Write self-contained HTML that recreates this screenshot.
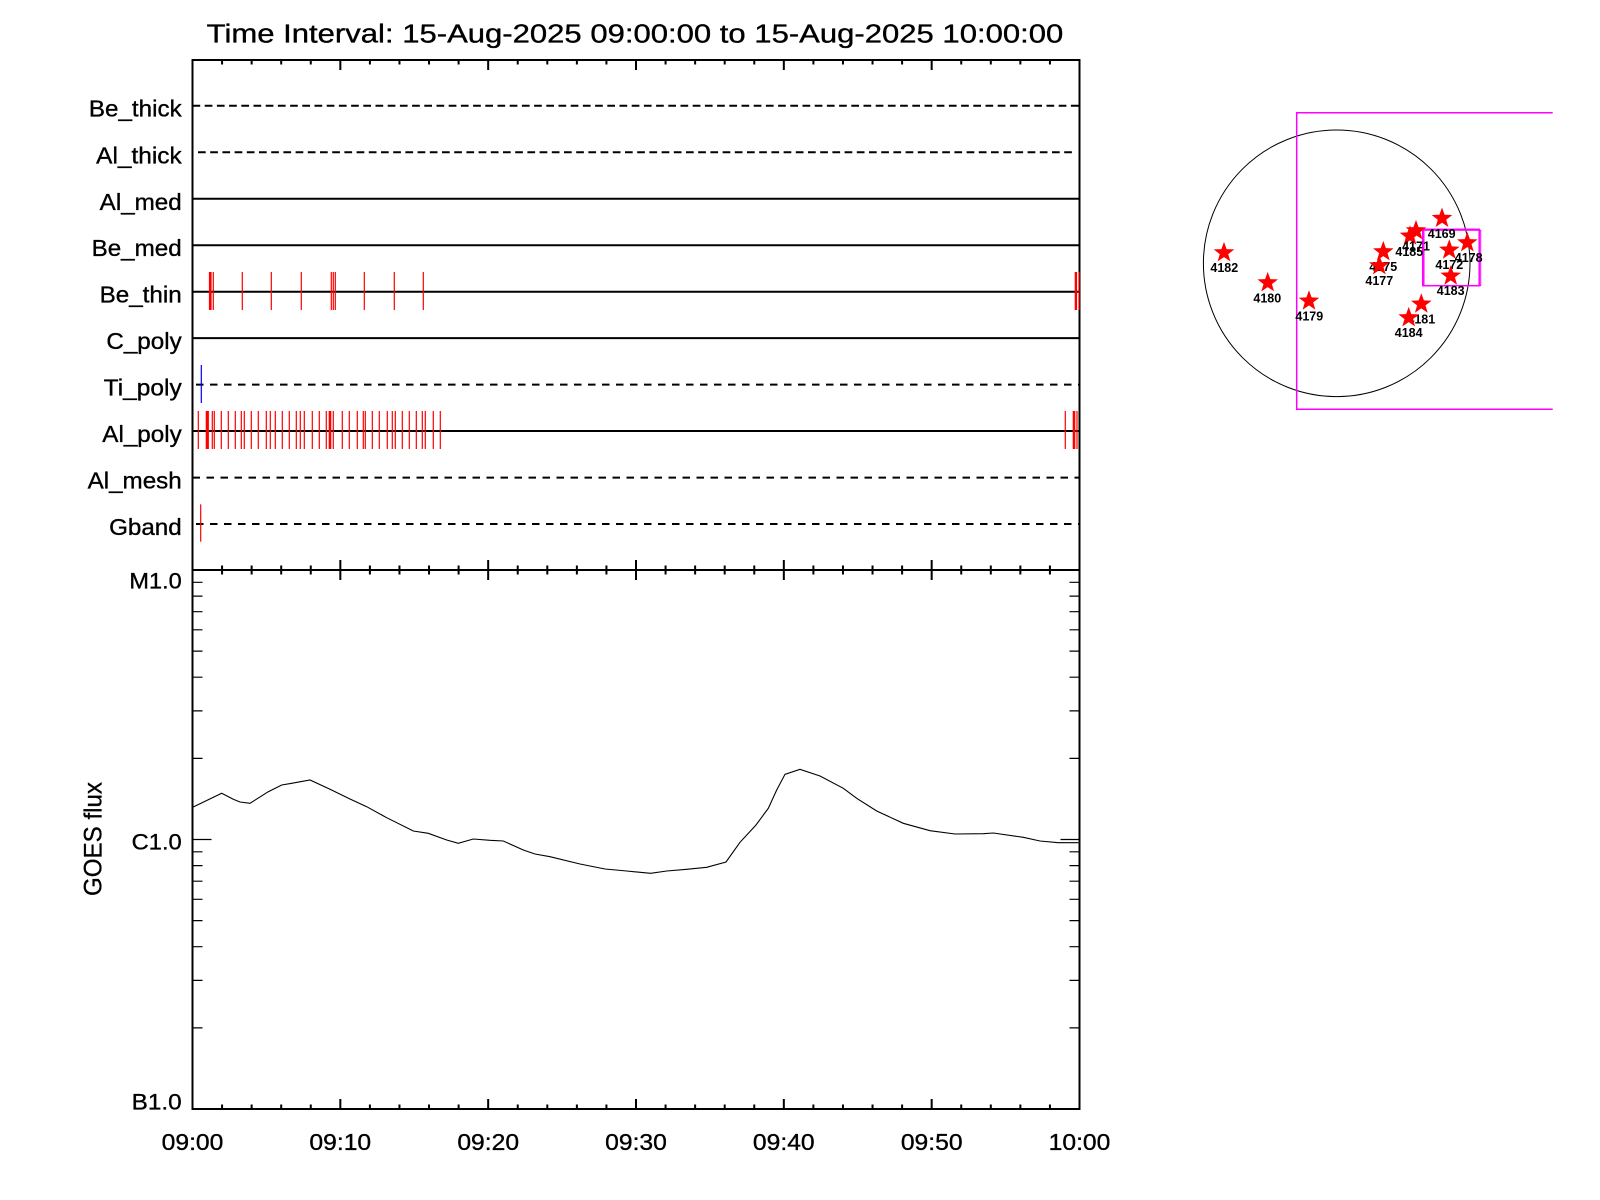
<!DOCTYPE html>
<html>
<head>
<meta charset="utf-8">
<style>
  html,body{margin:0;padding:0;background:#fff;}
  svg{display:block;}
  text{font-family:"Liberation Sans",Arial,sans-serif;fill:#000;}
</style>
</head>
<body>
<svg width="1600" height="1200" viewBox="0 0 1600 1200" xmlns="http://www.w3.org/2000/svg">
  <rect x="0" y="0" width="1600" height="1200" fill="#fff"/>
  <defs>
    <g id="minT" stroke="#000" stroke-width="2">
      <path d="M222.07 0V4.5M251.63 0V4.5M281.2 0V4.5M310.77 0V4.5M369.9 0V4.5M399.47 0V4.5M429.03 0V4.5M458.6 0V4.5M517.73 0V4.5M547.3 0V4.5M576.87 0V4.5M606.43 0V4.5M665.57 0V4.5M695.13 0V4.5M724.7 0V4.5M754.27 0V4.5M813.4 0V4.5M842.97 0V4.5M872.53 0V4.5M902.1 0V4.5M961.23 0V4.5M990.8 0V4.5M1020.37 0V4.5M1049.93 0V4.5"/>
      <path d="M192.5 0V10M340.33 0V10M488.17 0V10M636 0V10M783.83 0V10M931.67 0V10M1079.5 0V10"/>
    </g>
    <path id="star" d="M0,-10.8 L2.6,-3.6 L10.3,-3.3 L4.2,1.4 L6.4,8.7 L0,4.4 L-6.4,8.7 L-4.2,1.4 L-10.3,-3.3 L-2.6,-3.6 Z" fill="#ff0000"/>
  </defs>

  <!-- Title -->
  <text x="206.7" y="42.7" font-size="25.5" stroke="#000" stroke-width="0.35" textLength="856.6" lengthAdjust="spacingAndGlyphs">Time Interval: 15-Aug-2025 09:00:00 to 15-Aug-2025 10:00:00</text>

  <!-- ===== Top panel ===== -->
  <rect x="192.5" y="60" width="887" height="510" fill="none" stroke="#000" stroke-width="2"/>
  <use href="#minT" transform="translate(0,60)"/>
  <use href="#minT" transform="translate(0,570) scale(1,-1)"/>

  <!-- channel lines -->
  <g stroke="#000" stroke-width="2" fill="none">
    <line x1="192.5" y1="105.7" x2="1079.5" y2="105.7" stroke-dasharray="7.7 4.5"/>
    <line x1="198" y1="152.3" x2="1076" y2="152.3" stroke-dasharray="7.7 4.5"/>
    <line x1="192.5" y1="198.8" x2="1079.5" y2="198.8"/>
    <line x1="192.5" y1="245.2" x2="1079.5" y2="245.2"/>
    <line x1="192.5" y1="291.7" x2="1079.5" y2="291.7"/>
    <line x1="192.5" y1="338.1" x2="1079.5" y2="338.1"/>
    <line x1="196" y1="384.6" x2="1079.5" y2="384.6" stroke-dasharray="7.5 6.5"/>
    <line x1="192.5" y1="431" x2="1079.5" y2="431"/>
    <line x1="192.5" y1="477.6" x2="1079.5" y2="477.6" stroke-dasharray="7.5 6.5"/>
    <line x1="196" y1="524" x2="1079.5" y2="524" stroke-dasharray="7.5 6.5"/>
  </g>

  <!-- channel labels -->
  <g font-size="23.5" text-anchor="end" stroke="#000" stroke-width="0.35">
    <text x="181.7" y="116.7" textLength="92.8" lengthAdjust="spacingAndGlyphs">Be_thick</text>
    <text x="181.7" y="163.3" textLength="85.5" lengthAdjust="spacingAndGlyphs">Al_thick</text>
    <text x="181.7" y="209.8" textLength="82" lengthAdjust="spacingAndGlyphs">Al_med</text>
    <text x="181.7" y="256.2" textLength="90.1" lengthAdjust="spacingAndGlyphs">Be_med</text>
    <text x="181.7" y="302.7" textLength="82.1" lengthAdjust="spacingAndGlyphs">Be_thin</text>
    <text x="181.7" y="349.1" textLength="75.3" lengthAdjust="spacingAndGlyphs">C_poly</text>
    <text x="181.7" y="395.6" textLength="78" lengthAdjust="spacingAndGlyphs">Ti_poly</text>
    <text x="181.7" y="442" textLength="79.4" lengthAdjust="spacingAndGlyphs">Al_poly</text>
    <text x="181.7" y="488.6" textLength="94.1" lengthAdjust="spacingAndGlyphs">Al_mesh</text>
    <text x="181.7" y="535" textLength="72.6" lengthAdjust="spacingAndGlyphs">Gband</text>
  </g>

  <!-- Be_thin events -->
  <g stroke="#ff0000" stroke-width="1.2">
    <path d="M209.5 272V310M210.5 272V310M211 272V310M213.3 272V310M242.3 272V310M271.3 272V310M301.3 272V310M331.3 272V310M333.3 272V310M335.3 272V310M364.3 272V310M394.3 272V310M423.3 272V310M1075.3 272V310M1076.5 272V310M1079 272V310"/>
  </g>
  <!-- Al_poly events -->
  <g stroke="#ff0000" stroke-width="1.2">
    <path d="M198.3 411V449M206.3 411V449M207 411V449M207.7 411V449M208.3 411V449M212.3 411V449M214.3 411V449M221.3 411V449M228.3 411V449M235.3 411V449M241.3 411V449M244.3 411V449M251.3 411V449M258.3 411V449M266.3 411V449M270.3 411V449M275.3 411V449M282.3 411V449M289.3 411V449M296.3 411V449M300.3 411V449M304.3 411V449M312.3 411V449M319.3 411V449M326.3 411V449M329.3 411V449M330 411V449M330.7 411V449M333.3 411V449M342.3 411V449M349.3 411V449M357.3 411V449M363.3 411V449M365.3 411V449M372.3 411V449M379.3 411V449M387.3 411V449M392.3 411V449M395.3 411V449M402.3 411V449M409.3 411V449M416.3 411V449M422.3 411V449M425.3 411V449M433.3 411V449M440.3 411V449M1065.3 411V449M1073.3 411V449M1074 411V449M1074.7 411V449M1077 411V449"/>
  </g>
  <!-- Ti_poly blue, Gband red -->
  <line x1="201.3" y1="365" x2="201.3" y2="403" stroke="#0000ff" stroke-width="1.2"/>
  <line x1="200.7" y1="504.3" x2="200.7" y2="541.7" stroke="#ff0000" stroke-width="1.2"/>

  <!-- ===== Bottom panel ===== -->
  <rect x="192.5" y="570" width="887" height="539" fill="none" stroke="#000" stroke-width="2"/>
  <use href="#minT" transform="translate(0,570)"/>
  <use href="#minT" transform="translate(0,1109) scale(1,-1)"/>

  <!-- y ticks -->
  <g stroke="#000" stroke-width="1.2">
    <path d="M192.5 582.3h10M192.5 596.1h10M192.5 611.7h10M192.5 629.8h10M192.5 651.1h10M192.5 677.2h10M192.5 710.9h10M192.5 758.4h10M192.5 839.5h19M192.5 851.8h10M192.5 865.6h10M192.5 881.2h10M192.5 899.3h10M192.5 920.6h10M192.5 946.7h10M192.5 980.4h10M192.5 1027.9h10"/>
    <path d="M1079.5 582.3h-10M1079.5 596.1h-10M1079.5 611.7h-10M1079.5 629.8h-10M1079.5 651.1h-10M1079.5 677.2h-10M1079.5 710.9h-10M1079.5 758.4h-10M1079.5 839.5h-19M1079.5 851.8h-10M1079.5 865.6h-10M1079.5 881.2h-10M1079.5 899.3h-10M1079.5 920.6h-10M1079.5 946.7h-10M1079.5 980.4h-10M1079.5 1027.9h-10"/>
  </g>

  <!-- y labels -->
  <g font-size="22.5" text-anchor="end" stroke="#000" stroke-width="0.35">
    <text x="181.7" y="588.3" textLength="52.3" lengthAdjust="spacingAndGlyphs">M1.0</text>
    <text x="181.7" y="849.3" textLength="50" lengthAdjust="spacingAndGlyphs">C1.0</text>
    <text x="181.7" y="1109.3" textLength="50" lengthAdjust="spacingAndGlyphs">B1.0</text>
  </g>
  <text transform="translate(101.7,839) rotate(-90)" font-size="25" stroke="#000" stroke-width="0.3" text-anchor="middle" textLength="114" lengthAdjust="spacingAndGlyphs">GOES flux</text>

  <!-- x labels -->
  <g font-size="23.5" text-anchor="middle" stroke="#000" stroke-width="0.35">
    <text x="192.5" y="1150" textLength="61.7" lengthAdjust="spacingAndGlyphs">09:00</text>
    <text x="340.3" y="1150" textLength="61.7" lengthAdjust="spacingAndGlyphs">09:10</text>
    <text x="488.2" y="1150" textLength="61.7" lengthAdjust="spacingAndGlyphs">09:20</text>
    <text x="636" y="1150" textLength="61.7" lengthAdjust="spacingAndGlyphs">09:30</text>
    <text x="783.8" y="1150" textLength="61.7" lengthAdjust="spacingAndGlyphs">09:40</text>
    <text x="931.7" y="1150" textLength="61.7" lengthAdjust="spacingAndGlyphs">09:50</text>
    <text x="1079.5" y="1150" textLength="61.7" lengthAdjust="spacingAndGlyphs">10:00</text>
  </g>

  <!-- GOES curve -->
  <polyline fill="none" stroke="#000" stroke-width="1.1" points="192.7,807.3 221.7,793.3 233.3,799.3 240,802 250,803.3 268.3,791.7 281.7,785 291.7,783.3 310,780 330,789.3 350,799 366.7,806.7 386.7,817.7 413.3,831 428.3,833.3 446.7,840 458.3,843.3 473.3,839 490,840.3 503.3,841 523.3,850 535,854 550,856.7 580,864 605,869 626.7,871 650.7,873.3 666.7,871 686.7,869.3 706.7,867.3 726,862 740,842.3 756,825 768.3,808.3 776.7,790 785,774.3 800,769.3 820,776 843.3,788.3 856.7,798.3 876.7,811 903.3,823.3 930,830.7 955,834 983.3,833.7 993.3,833 1023.3,837.3 1040,841 1058.3,842.7 1078.3,842.7"/>

  <!-- ===== Solar disk ===== -->
  <circle cx="1336.7" cy="263.3" r="133.3" fill="none" stroke="#000" stroke-width="1"/>
  <path d="M1552.7 112.7H1296.7V409.3H1552.7" fill="none" stroke="#ff00ff" stroke-width="1.5"/>
  <rect x="1422.7" y="229.3" width="56.5" height="56.4" fill="none" stroke="#ff00ff" stroke-width="1.5"/>
  <rect x="1424" y="230.3" width="56.7" height="55.4" fill="none" stroke="#ff00ff" stroke-width="1"/>

  <g font-size="12.5" font-weight="bold" text-anchor="middle">
    <use href="#star" x="1224" y="252.7"/><text x="1224.3" y="271.8">4182</text>
    <use href="#star" x="1267.7" y="282.7"/><text x="1267.3" y="302.5">4180</text>
    <use href="#star" x="1309" y="301"/><text x="1309.3" y="320.5">4179</text>
    <use href="#star" x="1383.3" y="251.7"/><text x="1383.3" y="271.2">4175</text>
    <use href="#star" x="1379.3" y="265.7"/><text x="1379.3" y="285.2">4177</text>
    <use href="#star" x="1410" y="236"/><text x="1409.3" y="256.2">4185</text>
    <use href="#star" x="1416" y="230.7"/><text x="1416" y="250.5">4171</text>
    <use href="#star" x="1442" y="218.3"/><text x="1441.7" y="237.8">4169</text>
    <use href="#star" x="1449.3" y="250"/><text x="1449.3" y="269.2">4172</text>
    <use href="#star" x="1467.3" y="242.7"/><text x="1468.7" y="261.8">4178</text>
    <use href="#star" x="1450.7" y="276"/><text x="1450.7" y="295.2">4183</text>
    <use href="#star" x="1421.3" y="304"/><text x="1421.3" y="323.5">4181</text>
    <use href="#star" x="1408.7" y="317.7"/><text x="1408.7" y="337.2">4184</text>
  </g>
</svg>
</body>
</html>
